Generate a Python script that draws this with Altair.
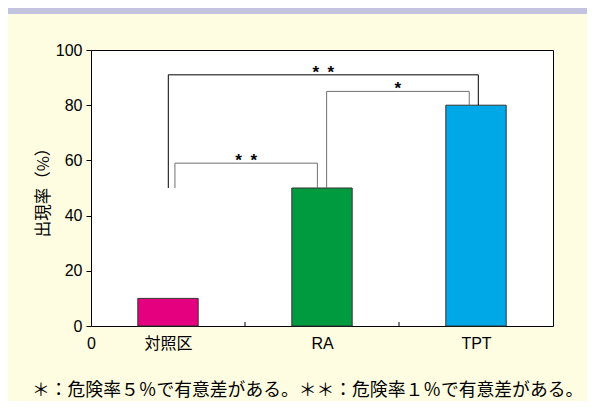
import altair as alt
import pandas as pd

# ---- data ----
categories = ["対照区", "RA", "TPT"]
values = [10, 50, 80]
bar_colors = ["#E4007F", "#009B3E", "#00A8E8"]
positions = [0.5, 1.5, 2.5]          # category centres on a 0..3 axis
bar_half = 0.196
boundaries = [1, 2]                   # inner x ticks between categories
y_ticks = [0, 20, 40, 60, 80, 100]

bracket_ids = ["b1", "b2", "b3"]
bracket_x_left = [0.545, 1.53, 0.502]
bracket_x_right = [1.47, 2.456, 2.515]
bracket_y_left = [50, 50, 50]
bracket_y_right = [50, 80, 80]
bracket_y_top = [59, 85, 91]
bracket_labels = ["*\u2002*", "*", "*\u2002*"]
bracket_colors = ["#707070", "#707070", "#000000"]

y_title = "出現率（%）"
footnote = ["＊：危険率５％で有意差がある。＊＊：危険率１％で有意差がある。"]

W, H = 462, 276
LAT = "Liberation Sans, Arial, Noto Sans CJK JP"
CJK = "Noto Sans CJK JP"

# ---- tables ----
bars = pd.DataFrame({"cat": categories, "pos": positions, "val": values})
rows = []
for i, b in enumerate(bracket_ids):
    pts = [(bracket_x_left[i], bracket_y_left[i]),
           (bracket_x_left[i], bracket_y_top[i]),
           (bracket_x_right[i], bracket_y_top[i]),
           (bracket_x_right[i], bracket_y_right[i])]
    for k, (x, y) in enumerate(pts):
        rows.append({"b": b, "o": k, "x": x, "y": y})
paths = pd.DataFrame(rows)
labels = pd.DataFrame({
    "b": bracket_ids,
    "x": [(l + r) / 2 for l, r in zip(bracket_x_left, bracket_x_right)],
    "y": bracket_y_top,
    "t": bracket_labels,
})

label_expr = "datum.value == 0 ? '0' : " + " : ".join(
    f"datum.value == {p} ? '{c}'" for p, c in zip(positions, categories)
) + " : ''"

xs = alt.Scale(domain=[0, 3], nice=False, zero=False)
ys = alt.Scale(domain=[0, 100], nice=False)
x_axis = alt.Axis(values=[0] + positions, labelExpr=label_expr, ticks=False,
                  domain=False, grid=False, labelPadding=9, labelFontSize=16,
                  labelFont=LAT, labelColor="#000", labelFlush=False,
                  labelOverlap=False, title=None)
y_axis = alt.Axis(values=y_ticks, tickSize=5, tickColor="#000", domain=False,
                  grid=False, labelPadding=4, labelFontSize=16, labelFont=LAT,
                  labelColor="#000", title=y_title, titleFont=CJK,
                  titleFontSize=16.5, titleFontWeight="normal", titleColor="#000",
                  titlePadding=4)

bar_layer = alt.Chart(bars).transform_calculate(
    x1=f"datum.pos - {bar_half}", x2=f"datum.pos + {bar_half}"
).mark_bar(stroke="#333", strokeWidth=1).encode(
    x=alt.X("x1:Q", scale=xs, axis=x_axis),
    x2="x2:Q",
    y=alt.Y("val:Q", scale=ys, axis=y_axis),
    y2=alt.datum(0),
    color=alt.Color("cat:N", scale=alt.Scale(domain=categories, range=bar_colors), legend=None),
)

tick_layer = alt.Chart(pd.DataFrame({"x": boundaries})).mark_rule(
    color="#000", strokeWidth=1
).encode(
    x=alt.X("x:Q", scale=xs, axis=x_axis),
    y=alt.value(H), y2=alt.value(H - 4),
)

bracket_layer = alt.Chart(paths).mark_line(strokeWidth=1, interpolate="linear").encode(
    x=alt.X("x:Q", scale=xs, axis=x_axis),
    y=alt.Y("y:Q", scale=ys, axis=y_axis),
    detail="b:N",
    order="o:Q",
    color=alt.Color("b:N", scale=alt.Scale(domain=bracket_ids, range=bracket_colors), legend=None),
)

star_layer = alt.Chart(labels).mark_text(
    font=LAT, fontSize=17, fontWeight="bold", color="#000",
    baseline="alphabetic", dy=3
).encode(
    x=alt.X("x:Q", scale=xs, axis=x_axis),
    y=alt.Y("y:Q", scale=ys, axis=y_axis),
    text="t:N",
)

header = alt.Chart(pd.DataFrame({"a": [0]})).mark_rect(color="#C3C3E0").encode(
    x=alt.value(-83), x2=alt.value(W + 34), y=alt.value(-42), y2=alt.value(-36)
)

note_layer = alt.Chart(pd.DataFrame({"t": footnote})).mark_text(
    font=CJK, fontSize=17.8, color="#000", align="left", baseline="middle"
).encode(
    x=alt.value(-59), y=alt.value(H + 65), text="t:N"
)

chart = alt.layer(
    bar_layer, tick_layer, bracket_layer, star_layer, header, note_layer
).resolve_scale(color="independent").properties(
    width=W, height=H,
    padding={"left": 83, "top": 42, "right": 34, "bottom": 75},
    autosize=alt.AutoSizeParams(type="none"),
    background="#FEFCE1",
).configure_view(
    stroke="#000", strokeWidth=1, fill="#FFFFFF"
)

chart.save("out.html", embed_options={"renderer": "svg", "actions": False})
